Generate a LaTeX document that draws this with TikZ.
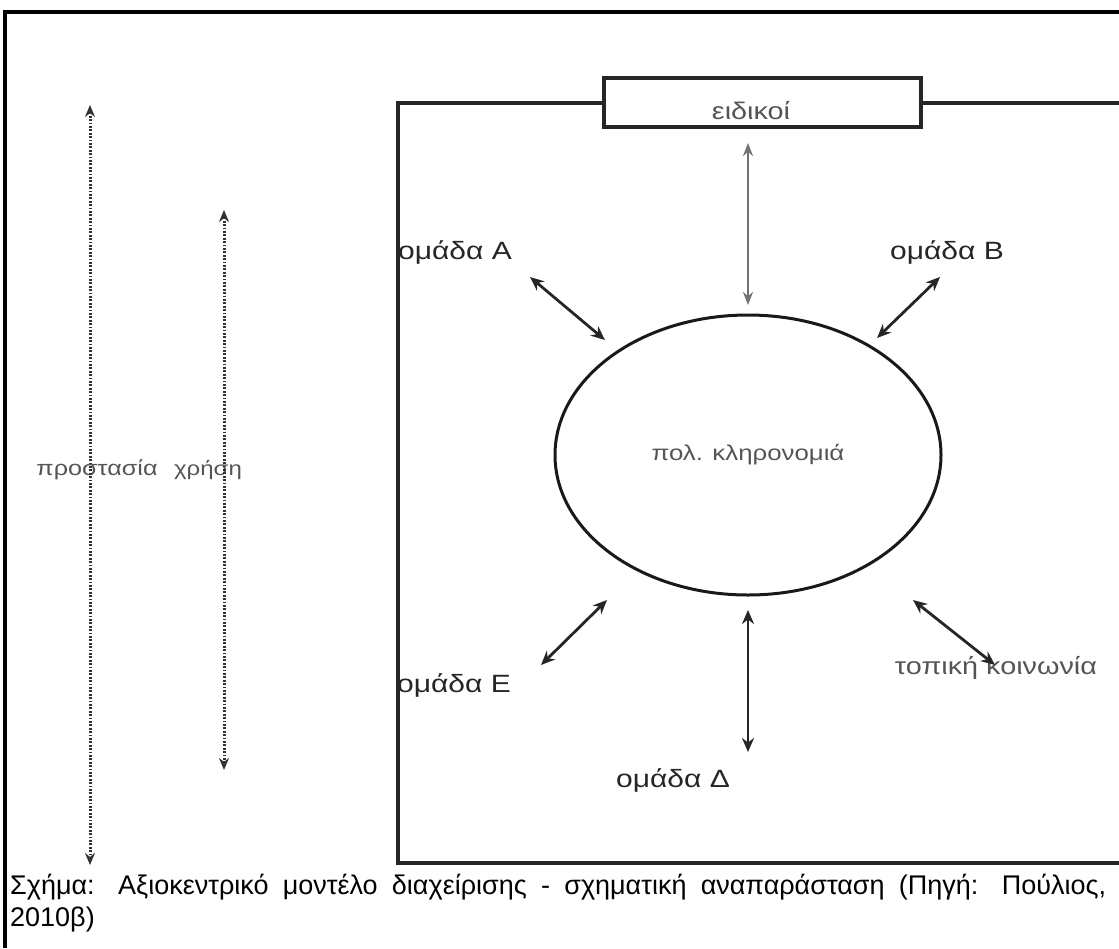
\documentclass[tikz,border=0pt]{standalone}
\usepackage{fontspec}
\setmainfont{Liberation Sans}[FakeStretch=1.2]
\newfontfamily\capfont{Liberation Sans}
\usetikzlibrary{shapes.geometric,arrows.meta}
\definecolor{greytext}{HTML}{555555}
\definecolor{darktext}{HTML}{262626}
\begin{document}
\begin{tikzpicture}[x=1pt,y=-1pt,
  frame/.style={line width=3.6pt,black},
  boxline/.style={line width=3.2pt,draw=black!85},
  twoway/.style={{Stealth[length=14pt,width=12pt]}-{Stealth[length=14pt,width=12pt]},line width=2.8pt,draw=darktext},
  greyway/.style={{Stealth[length=13pt,width=10pt]}-{Stealth[length=13pt,width=10pt]},line width=2.4pt,draw=black!55},
  dotway/.style={{Stealth[length=12pt,width=10pt]}-{Stealth[length=12pt,width=10pt]},line width=3pt,draw=black!80,dash pattern=on 1.8pt off 1.6pt},
  glabel/.style={font=\fontsize{24}{27}\selectfont,text=greytext,inner sep=1pt},
  dlabel/.style={font=\fontsize{25}{28}\selectfont,text=darktext,inner sep=1pt}]
\useasboundingbox (0,0) rectangle (1119,948);
\fill[white] (0,0) rectangle (1119,948);
% outer frame
\draw[frame] (5,948) -- (5,12) -- (1119,12);
% specialists box
\node[draw=black!85,line width=3.2pt,minimum width=317pt,minimum height=49pt,inner sep=0] (eb) at (762.5,102.5) {};
\node[glabel] (et) at (751,111) {ειδικοί};
% inner box
\coordinate (tl) at (398,103);
\coordinate (bl) at (398,863);
\coordinate (br) at (1119,863);
\coordinate (tr) at (1119,103);
\draw[boxline] (eb.west |- tl) -- (tl) -- (bl) -- (br);
\draw[boxline] (eb.east |- tr) -- (tr);
% heritage ellipse
\node[ellipse,draw=black!90,line width=3pt,minimum width=386pt,minimum height=280pt,inner sep=0,
  font=\fontsize{21.5}{24}\selectfont,text=greytext] (h) at (748,455) {πολ. κληρονομιά};
% labels
\node[dlabel] (ga) at (455,252) {ομάδα Α};
\node[dlabel] (gb) at (947,252) {ομάδα Β};
\node[dlabel] (ge) at (454,685) {ομάδα Ε};
\node[dlabel] (gd) at (673,780) {ομάδα Δ};
\node[glabel] (tk) at (996,668) {τοπική κοινωνία};
\node[glabel,font=\fontsize{21}{24}\selectfont] (pr) at (97,470) {προστασία};
\node[glabel,font=\fontsize{20}{24}\selectfont] (xr) at (208,470) {χρήση};
% arrow end points
\coordinate (ea1) at (748,143); \coordinate (ea2) at (748,305);
\coordinate (aa1) at (530,277); \coordinate (aa2) at (605,340);
\coordinate (ba1) at (940,277); \coordinate (ba2) at (877,338);
\coordinate (ea3) at (607,600); \coordinate (ea4) at (541,665);
\coordinate (da1) at (748,610); \coordinate (da2) at (748,752);
\coordinate (ta1) at (913,600); \coordinate (ta2) at (995,665);
\coordinate (p1) at (90,105); \coordinate (p2) at (90,865);
\coordinate (x1) at (224,210); \coordinate (x2) at (224,770);
% arrows
\draw[greyway] (ea1) -- (ea2);
\draw[twoway] (aa1) -- (aa2);
\draw[twoway] (ba1) -- (ba2);
\draw[twoway] (ea3) -- (ea4);
\draw[twoway] (da1) -- (da2);
\draw[twoway] (ta1) -- (ta2);
\draw[dotway] (p1) -- (p2);
\draw[dotway] (x1) -- (x2);
% caption
\node[anchor=north west,text width=1096pt,align=justify,inner sep=0,
  font=\capfont\fontsize{27}{32}\selectfont] (cap) at (10,874)
  {Σχήμα: Αξιοκεντρικό μοντέλο διαχείρισης - σχηματική αναπαράσταση (Πηγή: Πούλιος,\linebreak 2010β)};
\end{tikzpicture}
\end{document}
